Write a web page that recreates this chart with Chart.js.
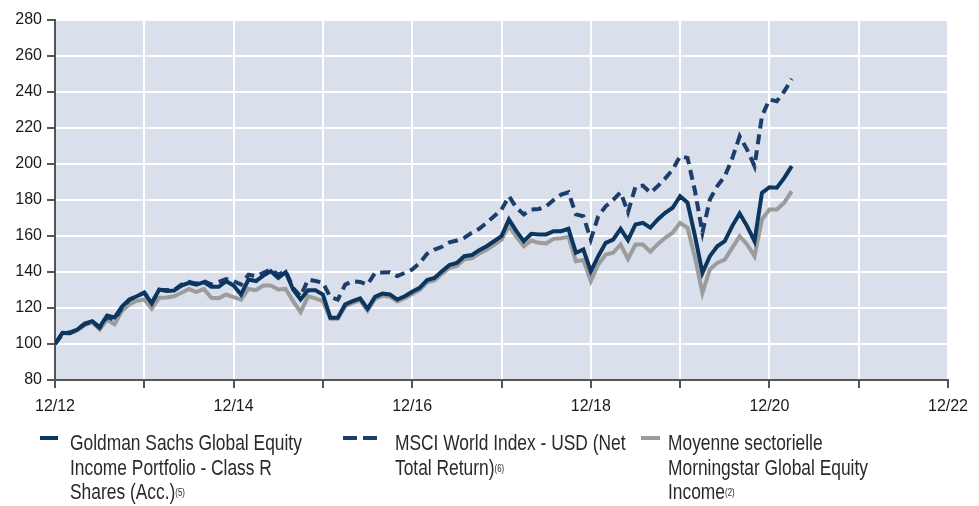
<!DOCTYPE html>
<html><head><meta charset="utf-8">
<script src="https://cdn.jsdelivr.net/npm/chart.js@4.4.1/dist/chart.umd.min.js"></script>
<style>
html,body{margin:0;padding:0;background:#fff;}
#wrap{position:relative;width:979px;height:506px;overflow:hidden;}
canvas{position:absolute;left:0;top:0;}
.leg{position:absolute;top:431px;font-family:"Liberation Sans",Arial,sans-serif;font-size:22px;line-height:24.5px;color:#2a2a2a;white-space:nowrap;transform:scaleX(0.79);transform-origin:0 0;}
.mk{position:absolute;height:4px;top:436px;}
sup{font-size:10px;vertical-align:top;position:relative;top:1px;}
</style></head>
<body>
<div id="wrap">
<canvas id="c" width="979" height="506"></canvas>
<div class="mk" style="left:40px;width:18px;background:#0b365f"></div>
<div class="leg" style="left:70px">Goldman Sachs Global Equity<br>Income Portfolio - Class R<br>Shares (Acc.)<sup>(5)</sup></div>
<div class="mk" style="left:343px;width:14px;background:#1d3d6b"></div>
<div class="mk" style="left:363px;width:14px;background:#1d3d6b"></div>
<div class="leg" style="left:395px">MSCI World Index - USD (Net<br>Total Return)<sup>(6)</sup></div>
<div class="mk" style="left:641px;width:19px;background:#9c9c9c"></div>
<div class="leg" style="left:668px">Moyenne sectorielle<br>Morningstar Global Equity<br>Income<sup>(2)</sup></div>
</div>
<script>
// Monthly values, 12/2012 (index 0) to 03/2021 (index 99), base 100
const fund = [100,106.2,106,108,111.4,112.7,109.4,115.8,114.7,120.8,124.7,126.5,128.6,122.5,130.3,129.5,129.7,132.5,134,133,134.4,131.8,131.8,134.9,132.5,127.5,135.8,135,138,140.4,136.7,139.9,130.3,124.7,129.9,129.9,127.5,114.6,114.6,122,123.8,125.3,119.6,126.2,128,127.5,124.7,126.5,129,131.2,135.5,136.7,140.4,143.8,145,148.8,149.4,152.1,154.3,157.1,159.9,169.2,162.7,157.1,161.2,160.9,160.9,162.7,162.7,164,150.7,152.5,140.4,148.8,156.2,158,164,157.7,166.4,167.3,164.6,169.2,172.9,175.7,182.1,178.5,160,139.5,148.8,154.3,157.1,165.5,172.5,165.5,157.1,184,187.1,186.8,192.3,198.8];
const msci = [100,105.5,106.5,108,111,112.5,109,115,113.5,120,124.5,126.5,128.5,123,130,130,130,133,134.5,133.5,135,133,134.5,136,135,133,138.5,137.7,139.5,141.4,138.5,140.5,131,126.5,135.8,135,134,126,124.7,133,134.9,134.5,133,139.5,139.7,139.9,137.7,139.5,141.4,145,150.1,152.5,154,156.5,157.5,159,161.8,164,167.3,171,174.7,182.1,175.7,172,174.7,175,176.5,180,183,184.3,172,171,158,171,176.5,180,184.3,173.2,187.3,188,184,187.7,192,196.9,204.3,203.4,185,161.8,180.3,187.7,193.2,203,215.4,208,198.8,226.6,235.8,234.9,240.4,247.3];
const peers = [100,106,106,107.5,110.5,112,108,113.5,111,118.5,122,124,124.7,119.6,125.7,125.8,126.5,128.5,130.6,128.8,130.6,125.7,125.4,127.5,126,124.7,130.6,129.9,132.5,132.5,130.3,130.6,123.8,117.7,126.5,125.4,123.8,114,114,121,122.8,124.2,118.5,125,126.8,126.3,123.6,125.4,127.8,129.9,134.2,135.3,139,142.2,143.4,147.1,147.6,150.3,152.4,155.1,158,165.5,159.5,154.3,157.5,156.2,155.8,158.4,158.8,159.5,146,146.7,134.9,144.2,149.7,150.7,155.3,147.3,155.3,155.3,151.3,155.5,159,161.8,167.3,164.6,148,128.4,141.4,145,146.9,153.4,159.9,155.3,148.8,169.2,174.7,174.7,178.5,184.9];
const xTickLabels = ['12/12','12/14','12/16','12/18','12/20','12/22'];
const yTicks = {min:80, max:280, step:20};

const toPts = arr => arr.map((v,i)=>({x:i,y:v}));
const FONT = '"Liberation Sans",Arial,sans-serif';

const bgPlugin = {
  id:'bg',
  beforeDraw(chart){
    const a = chart.chartArea, ctx = chart.ctx;
    ctx.save(); ctx.fillStyle = '#d9dfeb';
    ctx.fillRect(a.left, a.top, a.right-a.left, a.bottom-a.top);
    ctx.restore();
  }
};

new Chart(document.getElementById('c'), {
  type:'line',
  data:{datasets:[
    {label:'fund', data:toPts(fund), borderColor:'#0b365f', borderWidth:4, pointRadius:0, tension:0, borderJoinStyle:'miter', fill:false},
    {label:'msci', data:toPts(msci), borderColor:'#1d3d6b', borderWidth:4, borderDash:[10,6], pointRadius:0, tension:0, borderJoinStyle:'miter', fill:false},
    {label:'peers', data:toPts(peers), borderColor:'#9c9c9c', borderWidth:4, pointRadius:0, tension:0, borderJoinStyle:'miter', fill:false}
  ]},
  options:{
    responsive:false, animation:false, devicePixelRatio:1,
    layout:{padding:{top:20,right:31,left:0,bottom:0}},
    plugins:{legend:{display:false}, tooltip:{enabled:false}},
    scales:{
      x:{type:'linear', min:0, max:120,
        afterFit(s){ s.height = 126; },
        ticks:{stepSize:12, autoSkip:false, maxRotation:0, padding:9, color:'#1a1a1a',
          font:{family:FONT, size:16},
          callback:(v)=> (v%24===0) ? xTickLabels[v/24] : ''},
        grid:{color:'#ffffff', lineWidth:2, tickColor:'#555', tickLength:8},
        border:{display:true, color:'#555', width:2}
      },
      y:{min:yTicks.min, max:yTicks.max,
        afterFit(s){ s.width = 55; },
        ticks:{stepSize:yTicks.step, padding:5, color:'#1a1a1a', font:{family:FONT, size:16}},
        grid:{color:'#ffffff', lineWidth:2, tickColor:'#555', tickLength:8},
        border:{display:true, color:'#555', width:2}
      }
    }
  },
  plugins:[bgPlugin]
});
</script>
</body></html>
